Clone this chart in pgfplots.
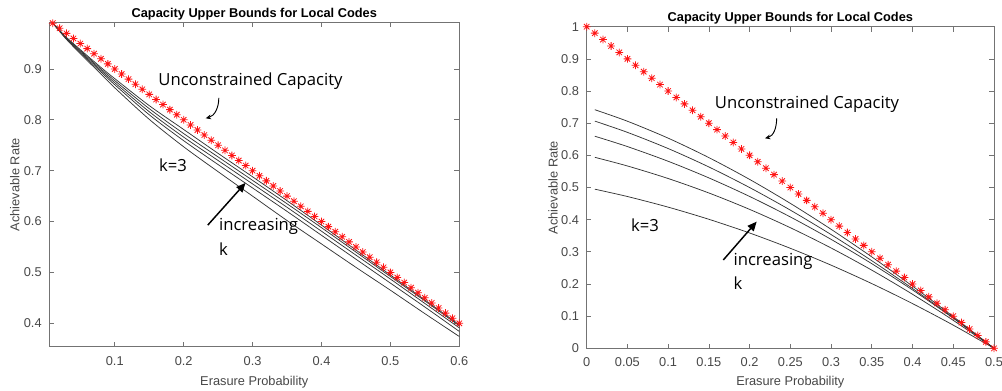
\documentclass[border=0pt]{standalone}
\usepackage{fontspec}
\setmainfont{Liberation Sans}
\newfontfamily\annfont{Open Sans}
\usepackage{pgfplots}
\pgfplotsset{compat=1.18}
\usepackage{pgfplotstable}
\usetikzlibrary{arrows.meta}

\pgfdeclareplotmark{mstar}{%
  \pgfpathmoveto{\pgfqpoint{-\pgfplotmarksize}{0pt}}\pgfpathlineto{\pgfqpoint{\pgfplotmarksize}{0pt}}%
  \pgfpathmoveto{\pgfqpoint{0pt}{-\pgfplotmarksize}}\pgfpathlineto{\pgfqpoint{0pt}{\pgfplotmarksize}}%
  \pgfpathmoveto{\pgfqpoint{-0.7071\pgfplotmarksize}{-0.7071\pgfplotmarksize}}\pgfpathlineto{\pgfqpoint{0.7071\pgfplotmarksize}{0.7071\pgfplotmarksize}}%
  \pgfpathmoveto{\pgfqpoint{-0.7071\pgfplotmarksize}{0.7071\pgfplotmarksize}}\pgfpathlineto{\pgfqpoint{0.7071\pgfplotmarksize}{-0.7071\pgfplotmarksize}}%
  \pgfusepathqstroke}

% left: unconstrained capacity 1-p
\pgfplotstableread{
p c
0.01 0.99
0.02 0.98
0.03 0.97
0.04 0.96
0.05 0.95
0.06 0.94
0.07 0.93
0.08 0.92
0.09 0.91
0.10 0.90
0.11 0.89
0.12 0.88
0.13 0.87
0.14 0.86
0.15 0.85
0.16 0.84
0.17 0.83
0.18 0.82
0.19 0.81
0.20 0.80
0.21 0.79
0.22 0.78
0.23 0.77
0.24 0.76
0.25 0.75
0.26 0.74
0.27 0.73
0.28 0.72
0.29 0.71
0.30 0.70
0.31 0.69
0.32 0.68
0.33 0.67
0.34 0.66
0.35 0.65
0.36 0.64
0.37 0.63
0.38 0.62
0.39 0.61
0.40 0.60
0.41 0.59
0.42 0.58
0.43 0.57
0.44 0.56
0.45 0.55
0.46 0.54
0.47 0.53
0.48 0.52
0.49 0.51
0.50 0.50
0.51 0.49
0.52 0.48
0.53 0.47
0.54 0.46
0.55 0.45
0.56 0.44
0.57 0.43
0.58 0.42
0.59 0.41
0.60 0.40
}\leftcap

% left: local code bounds, k=3..7
\pgfplotstableread{
p k3 k4 k5 k6 k7
0.01 0.990 0.990 0.990 0.990 0.990
0.02 0.974 0.9745 0.975 0.9755 0.976
0.03 0.958 0.959 0.960 0.961 0.962
0.05 0.930 0.932 0.934 0.936 0.938
0.08 0.890 0.894 0.897 0.900 0.903
0.10 0.863 0.869 0.873 0.877 0.881
0.15 0.801 0.810 0.816 0.822 0.828
0.20 0.747 0.759 0.766 0.773 0.781
0.25 0.698 0.712 0.720 0.727 0.734
0.30 0.650 0.666 0.674 0.681 0.688
0.35 0.602 0.620 0.628 0.635 0.641
0.40 0.556 0.573 0.581 0.588 0.593
0.45 0.510 0.526 0.534 0.540 0.544
0.50 0.465 0.479 0.487 0.492 0.495
0.55 0.419 0.432 0.439 0.444 0.446
0.60 0.374 0.384 0.391 0.395 0.397
}\leftk

% right: unconstrained capacity 1-2p
\pgfplotstableread{
p c
0.00 1.00
0.01 0.98
0.02 0.96
0.03 0.94
0.04 0.92
0.05 0.90
0.06 0.88
0.07 0.86
0.08 0.84
0.09 0.82
0.10 0.80
0.11 0.78
0.12 0.76
0.13 0.74
0.14 0.72
0.15 0.70
0.16 0.68
0.17 0.66
0.18 0.64
0.19 0.62
0.20 0.60
0.21 0.58
0.22 0.56
0.23 0.54
0.24 0.52
0.25 0.50
0.26 0.48
0.27 0.46
0.28 0.44
0.29 0.42
0.30 0.40
0.31 0.38
0.32 0.36
0.33 0.34
0.34 0.32
0.35 0.30
0.36 0.28
0.37 0.26
0.38 0.24
0.39 0.22
0.40 0.20
0.41 0.18
0.42 0.16
0.43 0.14
0.44 0.12
0.45 0.10
0.46 0.08
0.47 0.06
0.48 0.04
0.49 0.02
0.50 0.00
}\rightcap

% right: local code bounds, k=3..7
\pgfplotstableread{
p k3 k4 k5 k6 k7
0.01 0.4948 0.5939 0.6595 0.7064 0.7419
0.05 0.4720 0.5670 0.6273 0.6715 0.7061
0.10 0.4390 0.5280 0.5816 0.6212 0.6535
0.15 0.4012 0.4830 0.5299 0.5639 0.5930
0.20 0.3586 0.4320 0.4722 0.4999 0.5252
0.25 0.3110 0.3750 0.4085 0.4297 0.4507
0.30 0.2586 0.3120 0.3388 0.3537 0.3701
0.35 0.2012 0.2430 0.2631 0.2723 0.2842
0.40 0.1390 0.1680 0.1814 0.1860 0.1934
0.45 0.0720 0.0870 0.0937 0.0951 0.0985
0.50 0.0000 0.0000 0.0000 0.0000 0.0000
}\rightk

\pgfplotsset{
  matstyle/.style={
    scale only axis, clip=false,
    axis line style={black!55, line width=0.5pt},
    tick style={black!55, line width=0.5pt},
    tick align=inside, xtick pos=both, ytick pos=both,
    major tick length=3.6pt,
    /pgf/number format/assume math mode=true,
    ticklabel style={font=\fontsize{9.6}{11}\selectfont, text=black!72},
    xticklabel style={yshift=-3.6pt},
    yticklabel style={xshift=-2.2pt},
    title style={font=\bfseries\fontsize{9.6}{11}\selectfont, yshift=-7.5pt},
    label style={font=\fontsize{9.6}{11}\selectfont, text=black!72},
  },
  kline/.style={black!80, line width=0.55pt, no markers, smooth},
  capline/.style={draw=none, mark=mstar, mark size=2.9pt, mark options={red!92!white, line width=0.6pt}},
}

\begin{document}
\begin{tikzpicture}[x=1pt,y=1pt]
\useasboundingbox (0,0) rectangle (751.5,292.5);
% ---------------- left ----------------
\begin{axis}[matstyle,
  at={(36.97pt,32.5pt)}, anchor=south west,
  width=307.5pt, height=243pt,
  xmin=0.005, xmax=0.6, ymin=0.354, ymax=0.991,
  xtick={0.1,0.2,0.3,0.4,0.5,0.6},
  xticklabels={0.1,0.2,0.3,0.4,0.5,0.6},
  ytick={0.4,0.5,0.6,0.7,0.8,0.9},
  yticklabels={0.4,0.5,0.6,0.7,0.8,0.9},
  title={Capacity Upper Bounds for Local Codes},
  xlabel={Erasure Probability}, ylabel={Achievable Rate},
  xlabel style={at={(axis description cs:0.5,-0.11)}, anchor=center},
  ylabel style={at={(axis description cs:-0.084,0.5)}, anchor=center},
]
\addplot[kline] table[x=p,y=k3] {\leftk};
\addplot[kline] table[x=p,y=k4] {\leftk};
\addplot[kline] table[x=p,y=k5] {\leftk};
\addplot[kline] table[x=p,y=k6] {\leftk};
\addplot[kline] table[x=p,y=k7] {\leftk};
\addplot[capline] table[x=p,y=c] {\leftcap};
\node[font=\annfont\fontsize{12.5}{14}\selectfont] at (axis cs:0.297,0.876) {Unconstrained Capacity};
\draw[-{Stealth[length=4pt,width=3.5pt]}, line width=0.7pt] (axis cs:0.251,0.843) to[out=-90,in=15] (axis cs:0.232,0.803);
\node[font=\annfont\fontsize{12.5}{14}\selectfont] at (axis cs:0.1845,0.711) {k=3};
\draw[-{Triangle[length=7pt,width=6pt]}, line width=1.1pt] (axis cs:0.235,0.593) -- (axis cs:0.2898,0.676);
\node[font=\annfont\fontsize{12.5}{14}\selectfont, anchor=west, inner sep=0pt] at (axis cs:0.251,0.591) {increasing};
\node[font=\annfont\fontsize{12.5}{14}\selectfont, anchor=west, inner sep=0pt] at (axis cs:0.251,0.545) {k};
\end{axis}
% ---------------- right ----------------
\begin{axis}[matstyle,
  at={(440.0pt,31.27pt)}, anchor=south west,
  width=305.5pt, height=241.2pt,
  xmin=0, xmax=0.5, ymin=0, ymax=1,
  xtick={0,0.05,0.1,0.15,0.2,0.25,0.3,0.35,0.4,0.45,0.5},
  xticklabels={0,0.05,0.1,0.15,0.2,0.25,0.3,0.35,0.4,0.45,0.5},
  ytick={0,0.1,0.2,0.3,0.4,0.5,0.6,0.7,0.8,0.9,1},
  yticklabels={0,0.1,0.2,0.3,0.4,0.5,0.6,0.7,0.8,0.9,1},
  title={Capacity Upper Bounds for Local Codes},
  xlabel={Erasure Probability}, ylabel={Achievable Rate},
  xlabel style={at={(axis description cs:0.5,-0.106)}, anchor=center},
  ylabel style={at={(axis description cs:-0.0827,0.5)}, anchor=center},
]
\addplot[kline] table[x=p,y=k3] {\rightk};
\addplot[kline] table[x=p,y=k4] {\rightk};
\addplot[kline] table[x=p,y=k5] {\rightk};
\addplot[kline] table[x=p,y=k6] {\rightk};
\addplot[kline] table[x=p,y=k7] {\rightk};
\addplot[capline] table[x=p,y=c] {\rightcap};
\node[font=\annfont\fontsize{12.5}{14}\selectfont] at (axis cs:0.2705,0.759) {Unconstrained Capacity};
\draw[-{Stealth[length=4pt,width=3.5pt]}, line width=0.7pt] (axis cs:0.2332,0.715) to[out=-90,in=15] (axis cs:0.2189,0.653);
\node[font=\annfont\fontsize{12.5}{14}\selectfont] at (axis cs:0.0716,0.383) {k=3};
\draw[-{Triangle[length=7pt,width=6pt]}, line width=1.1pt] (axis cs:0.1677,0.2746) -- (axis cs:0.2087,0.394);
\node[font=\annfont\fontsize{12.5}{14}\selectfont, anchor=west, inner sep=0pt] at (axis cs:0.180,0.269) {increasing};
\node[font=\annfont\fontsize{12.5}{14}\selectfont, anchor=west, inner sep=0pt] at (axis cs:0.180,0.202) {k};
\end{axis}
\end{tikzpicture}
\end{document}
